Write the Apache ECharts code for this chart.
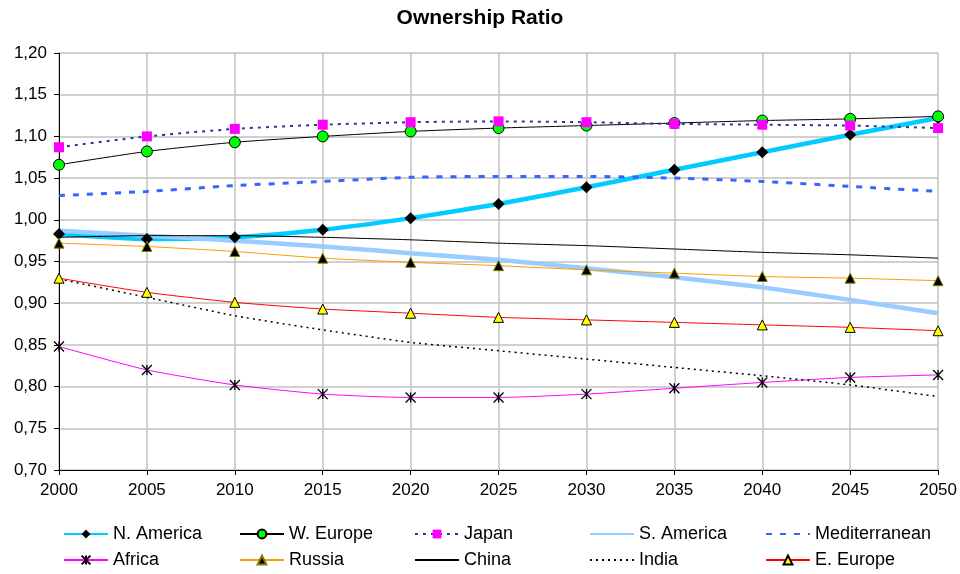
<!DOCTYPE html>
<html>
<head>
<meta charset="utf-8">
<script src="https://cdn.jsdelivr.net/npm/echarts@6/dist/echarts.min.js"></script>
<style>
  html, body { margin: 0; padding: 0; background: #fff; }
  #chart { width: 960px; height: 574px; }
</style>
</head>
<body>
<div id="chart"></div>
<script>
var years = ['2000', '2005', '2010', '2015', '2020', '2025', '2030', '2035', '2040', '2045', '2050'];

var nAmerica = [0.983, 0.977, 0.979, 0.988, 1.002, 1.019, 1.039, 1.060, 1.081, 1.102, 1.122];
var wEurope = [1.066, 1.082, 1.093, 1.100, 1.106, 1.110, 1.113, 1.116, 1.119, 1.121, 1.124];
var japan = [1.087, 1.100, 1.109, 1.114, 1.117, 1.118, 1.117, 1.115, 1.114, 1.113, 1.110];
var sAmerica = [0.987, 0.981, 0.975, 0.968, 0.960, 0.952, 0.942, 0.931, 0.919, 0.904, 0.888];
var mediterranean = [1.029, 1.034, 1.041, 1.046, 1.051, 1.052, 1.052, 1.050, 1.046, 1.040, 1.034];
var africa = [0.848, 0.820, 0.802, 0.791, 0.787, 0.787, 0.791, 0.798, 0.805, 0.811, 0.814];
var russia = [0.972, 0.968, 0.962, 0.954, 0.949, 0.945, 0.940, 0.936, 0.932, 0.930, 0.927];
var china = [0.979, 0.981, 0.981, 0.979, 0.976, 0.972, 0.969, 0.965, 0.961, 0.958, 0.954];
var india = [0.929, 0.907, 0.885, 0.868, 0.853, 0.843, 0.833, 0.823, 0.813, 0.802, 0.788];
var eEurope = [0.930, 0.913, 0.901, 0.893, 0.888, 0.883, 0.880, 0.877, 0.874, 0.871, 0.867];

var legendRows = [
    ['N. America', 'W. Europe', 'Japan', 'S. America', 'Mediterranean'],
    ['Africa', 'Russia', 'China', 'India', 'E. Europe']
];

var starPath = 'path://M0,0L10,10M10,0L0,10M5,0L5,10';
var font = 'Liberation Sans, Arial, sans-serif';

function line(name, data, lineStyle, symbol, symbolSize, itemStyle) {
    return {
        name: name,
        type: 'line',
        data: data,
        smooth: 0.2,
        // series without markers keep an invisible symbol so the legend shows just the line
        symbol: symbol || 'circle',
        symbolSize: symbolSize || 0,
        showSymbol: !!symbol,
        lineStyle: lineStyle,
        itemStyle: itemStyle || { color: 'rgba(0,0,0,0)', borderWidth: 0 },
        emphasis: { disabled: true }
    };
}

var legendX = [58, 234, 409, 584, 760];
var legendY = [520, 546];
var legends = [];
legendRows.forEach(function (row, r) {
    row.forEach(function (name, c) {
        legends.push({
            left: legendX[c],
            top: legendY[r],
            itemWidth: 44,
            itemHeight: 11,
            itemGap: 0,
            selectedMode: false,
            data: [name],
            textStyle: { fontFamily: font, fontSize: 18, color: '#000' }
        });
    });
});

var chart = echarts.init(document.getElementById('chart'));
chart.setOption({
    animation: false,
    title: {
        text: 'Ownership Ratio',
        left: 'center',
        top: 3,
        textStyle: { fontFamily: font, fontSize: 21, fontWeight: 'bold', color: '#000' }
    },
    legend: legends,
    grid: { left: 59, right: 21, top: 53, bottom: 104 },
    xAxis: {
        type: 'category',
        data: years,
        boundaryGap: false,
        axisLine: { lineStyle: { color: '#000', width: 1 } },
        axisTick: { show: true, length: 5, lineStyle: { color: '#000' } },
        axisLabel: { fontFamily: font, fontSize: 17, color: '#000', margin: 12 },
        splitLine: { show: true, lineStyle: { color: '#c0c0c0', width: 1.5 } }
    },
    yAxis: {
        type: 'value',
        min: 0.7,
        max: 1.2,
        interval: 0.05,
        axisLine: { show: true, lineStyle: { color: '#000', width: 1 } },
        axisTick: { show: true, length: 5, lineStyle: { color: '#000' } },
        axisLabel: {
            fontFamily: font, fontSize: 17, color: '#000', margin: 12,
            formatter: function (v) { return v.toFixed(2).replace('.', ','); }
        },
        splitLine: { show: true, lineStyle: { color: '#c0c0c0', width: 1.5 } }
    },
    series: [
        line('N. America', nAmerica, { color: '#00ccff', width: 4.5 }, 'diamond', 12, { color: '#000' }),
        line('W. Europe', wEurope, { color: '#000', width: 1 }, 'circle', 11, { color: '#00ff00', borderColor: '#000', borderWidth: 1 }),
        line('Japan', japan, { color: '#333399', width: 2, type: [3, 5] }, 'rect', 10, { color: '#ff00ff' }),
        line('S. America', sAmerica, { color: '#99ccff', width: 4.5 }),
        line('Mediterranean', mediterranean, { color: '#3366ff', width: 3, type: [6, 8] }),
        line('Africa', africa, { color: '#ff00ff', width: 1 }, starPath, 10, { color: '#000', borderColor: '#000', borderWidth: 1.3 }),
        line('Russia', russia, { color: '#ff9900', width: 1 }, 'triangle', 10, { color: '#000', borderColor: '#808000', borderWidth: 1 }),
        line('China', china, { color: '#000', width: 1 }),
        line('India', india, { color: '#000', width: 1.5, type: [2, 4] }),
        line('E. Europe', eEurope, { color: '#ff0000', width: 1 }, 'triangle', 10, { color: '#ffff00', borderColor: '#000', borderWidth: 1 })
    ]
});
</script>
</body>
</html>
